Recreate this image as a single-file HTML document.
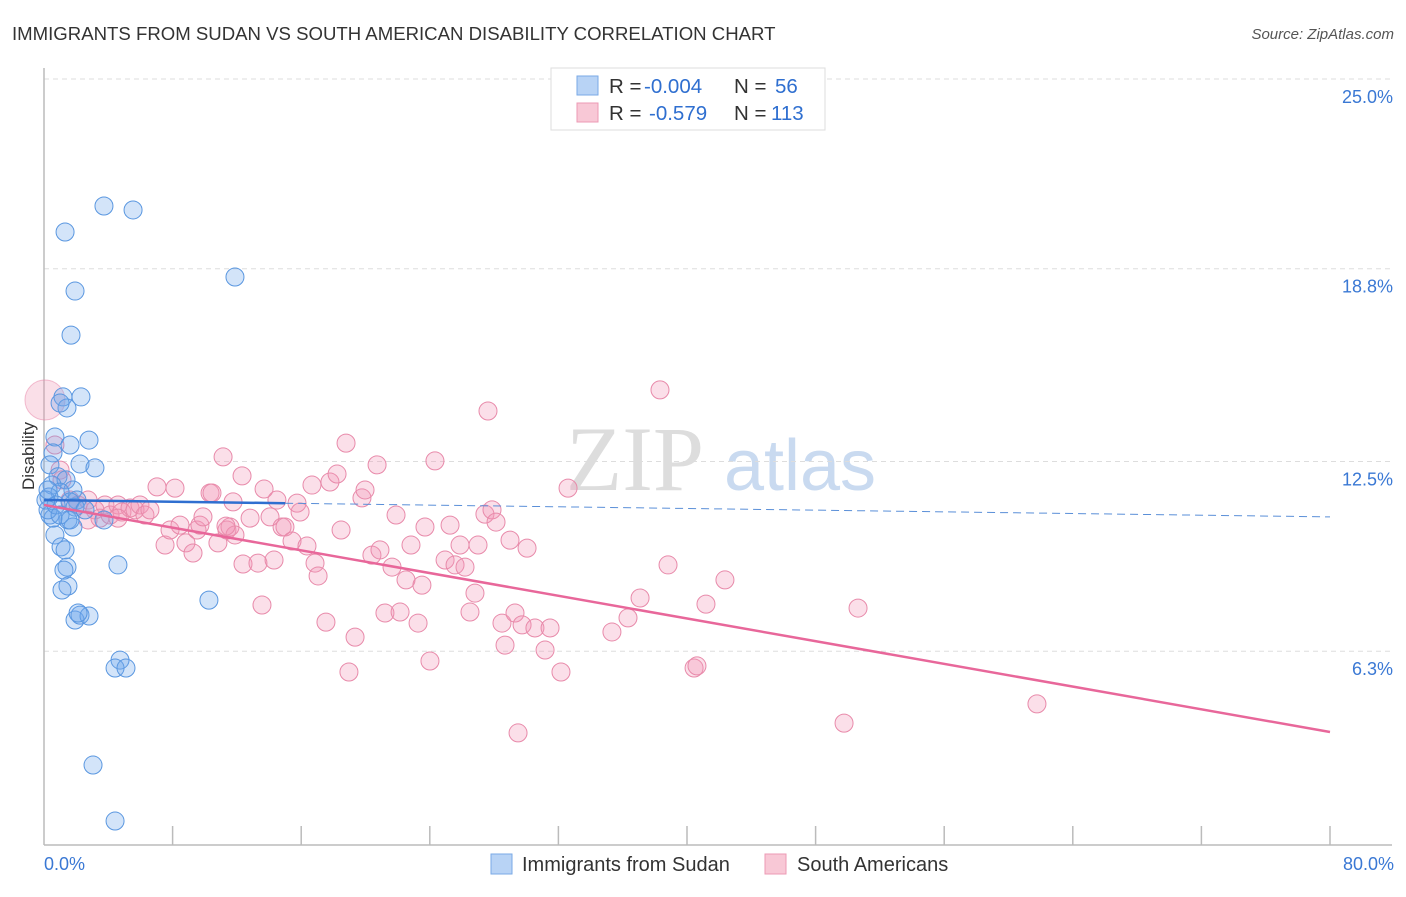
<!DOCTYPE html>
<html><head><meta charset="utf-8"><style>
body{margin:0;background:#fff;font-family:"Liberation Sans",sans-serif}
</style></head><body>
<svg id="chart" width="1406" height="892" viewBox="0 0 1406 892" xmlns="http://www.w3.org/2000/svg" font-family="Liberation Sans, sans-serif">
<text x="12" y="40" font-size="18.6" fill="#333">IMMIGRANTS FROM SUDAN VS SOUTH AMERICAN DISABILITY CORRELATION CHART</text>
<text x="1394" y="39" font-size="15" fill="#555" text-anchor="end" font-style="italic">Source: ZipAtlas.com</text>
<g>
<text x="635" y="490" font-size="92" fill="#ddd" font-family="Liberation Serif, serif" text-anchor="middle">ZIP</text>
<text x="800" y="490" font-size="72" fill="#c9daf0" text-anchor="middle">atlas</text>
</g>
<g id="grid"></g>
<g id="axes"></g>
<text transform="translate(34,456) rotate(-90)" font-size="17" fill="#333" text-anchor="middle">Disability</text>
<g id="marks"></g>
<g id="trends"></g>
<g>
<rect x="551" y="68" width="274" height="62" fill="#fff" stroke="#ddd"/>
<rect x="577" y="76" width="21" height="19" fill="#b8d3f5" stroke="#7aaae6"/>
<rect x="577" y="103" width="21" height="19" fill="#f8c8d6" stroke="#ec9ab4"/>
<text x="609" y="93" font-size="20.5" fill="#333">R = <tspan x="644" fill="#2f6fd0">-0.004</tspan><tspan x="734">N = </tspan><tspan x="775" fill="#2f6fd0">56</tspan></text>
<text x="609" y="120" font-size="20.5" fill="#333">R = <tspan x="649" fill="#2f6fd0">-0.579</tspan><tspan x="734">N = </tspan><tspan x="771" fill="#2f6fd0">113</tspan></text>
</g>
<g>
<rect x="491" y="854" width="21" height="20" fill="#b8d3f5" stroke="#7aaae6"/>
<text x="522" y="871" font-size="20" fill="#333">Immigrants from Sudan</text>
<rect x="765" y="854" width="21" height="20" fill="#f8c8d6" stroke="#ec9ab4"/>
<text x="797" y="871" font-size="20" fill="#333">South Americans</text>
</g>
</svg>
<script>
const yTicks=[25.0,18.8,12.5,6.3];
const yTickLabels=["25.0%","18.8%","12.5%","6.3%"];
const xTickCount=10;
const xTickLabels=["0.0%","80.0%"];
const blueData=[[3.73,20.85],[5.54,20.72],[1.31,20.0],[11.88,18.53],[1.93,18.07],[1.68,16.63],[1.18,14.61],[2.30,14.61],[1.43,14.25],[1.0,14.41],[0.68,13.3],[2.8,13.2],[1.62,13.04],[0.56,12.78],[2.24,12.42],[3.17,12.29],[0.37,12.39],[0.87,12.0],[1.37,11.9],[0.5,11.73],[1.8,11.57],[1.0,11.5],[2.05,11.24],[0.31,11.34],[1.62,11.18],[1.93,11.01],[0.37,10.75],[1.49,10.59],[0.56,10.65],[1.8,10.36],[0.68,10.1],[1.06,9.71],[1.31,9.61],[1.43,9.05],[1.24,8.95],[4.6,9.12],[1.49,8.43],[1.12,8.3],[1.93,7.32],[2.24,7.48],[2.8,7.45],[2.12,7.55],[10.26,7.97],[4.73,6.01],[4.42,5.75],[5.1,5.75],[3.05,2.58],[4.42,0.75],[0.25,10.92],[0.75,11.08],[3.73,10.59],[0.12,11.24],[1.0,10.75],[2.55,10.92],[0.25,11.57],[1.62,10.59]];
const pinkData=[[0.68,13.04],[1.0,12.22],[1.12,11.9],[1.62,11.24],[2.12,11.08],[2.74,11.24],[3.17,10.92],[3.48,10.65],[3.79,11.08],[4.11,10.75],[4.6,11.08],[4.85,10.85],[5.35,10.98],[5.66,10.92],[5.97,11.08],[6.28,10.75],[6.59,10.92],[7.03,11.67],[7.53,9.77],[7.84,10.26],[8.15,11.63],[8.46,10.42],[8.83,9.84],[9.27,9.51],[9.52,10.26],[9.7,10.42],[9.89,10.69],[10.33,11.47],[10.45,11.47],[10.82,9.84],[11.14,12.65],[11.38,10.26],[11.57,10.36],[11.88,10.1],[12.32,12.03],[12.38,9.15],[12.82,10.65],[13.31,9.18],[13.69,11.6],[14.06,10.69],[14.31,9.28],[14.49,11.24],[14.81,10.36],[14.99,10.36],[15.43,9.9],[15.74,11.14],[15.93,10.85],[16.36,9.74],[16.86,9.18],[17.05,8.76],[16.67,11.73],[17.54,7.25],[17.79,11.83],[18.23,12.09],[18.48,10.26],[18.79,13.1],[18.97,5.62],[19.35,6.76],[19.78,11.31],[19.97,11.57],[20.4,9.44],[20.72,12.39],[20.9,9.61],[21.21,7.55],[21.65,9.05],[21.9,10.75],[22.15,7.58],[22.52,8.63],[22.83,9.77],[23.27,7.22],[23.51,8.46],[23.7,10.36],[24.01,5.98],[24.32,12.52],[24.95,9.28],[25.26,10.42],[25.57,9.12],[25.88,9.77],[26.19,9.05],[26.5,7.58],[26.81,8.2],[27.0,9.77],[27.43,10.78],[27.62,14.15],[27.87,10.92],[28.12,10.52],[28.49,7.22],[28.68,6.5],[28.99,9.93],[29.3,7.55],[29.49,3.63],[29.74,7.16],[30.05,9.67],[30.54,7.06],[31.17,6.34],[31.48,7.06],[32.16,5.62],[32.6,11.63],[35.33,6.93],[36.33,7.39],[37.08,8.04],[38.32,14.84],[38.82,9.12],[40.44,5.75],[40.62,5.82],[41.18,7.84],[42.36,8.63],[49.77,3.95],[50.64,7.71],[61.77,4.58],[11.32,10.39],[11.76,11.18],[13.56,7.81],[2.74,10.59],[4.6,10.65]];
const bigPink=[0.06,14.51];
const blueTrend=[11.24,10.69];
const blueSolidEnd=15;
const pinkTrend=[11.08,3.66];

const NS="http://www.w3.org/2000/svg";
const X0=44,X1=1330,Y0=79,YS=30.6;
function xs(v){return X0+v*(X1-X0)/80;}
function ys(v){return Y0+(25-v)*YS;}
function mk(tag,attrs,parent){const e=document.createElementNS(NS,tag);for(const k in attrs)e.setAttribute(k,attrs[k]);parent.appendChild(e);return e;}
const grid=document.getElementById('grid'),axes=document.getElementById('axes'),marks=document.getElementById('marks'),trends=document.getElementById('trends');
yTicks.forEach((t,i)=>{
 const l=mk('line',{x1:X0,x2:1392,y1:ys(t),y2:ys(t),stroke:'#ddd','stroke-dasharray':'5,4'},grid);
 
 
 const tx=mk('text',{x:1393,y:ys(t)+24,'font-size':18,fill:'#3a78d4','text-anchor':'end'},axes);
 tx.textContent=yTickLabels[i];
 
 
});
const ya=mk('line',{x1:X0,x2:X0,y1:68,y2:845,stroke:'#bbb','stroke-width':1.5},axes);


const xa=mk('line',{x1:X0,x2:1392,y1:845,y2:845,stroke:'#bbb','stroke-width':1.5},axes);


for(let i=1;i<=xTickCount;i++){
 const t=mk('line',{x1:xs(i*8),x2:xs(i*8),y1:826,y2:845,stroke:'#bbb','stroke-width':1.5},axes);
 
 
}
const xl0=mk('text',{x:44,y:870,'font-size':18,fill:'#3a78d4'},axes);xl0.textContent=xTickLabels[0];


const xl1=mk('text',{x:1394,y:870,'font-size':18,fill:'#3a78d4','text-anchor':'end'},axes);xl1.textContent=xTickLabels[1];



const bp=mk('circle',{cx:xs(bigPink[0]),cy:ys(bigPink[1]),r:20,fill:'rgba(240,150,180,0.3)',stroke:'rgba(232,130,165,0.5)'},marks);


pinkData.forEach(d=>{
 const c=mk('circle',{cx:xs(d[0]),cy:ys(d[1]),r:9,fill:'rgba(242,150,182,0.3)',stroke:'#e88aaa','stroke-width':1},marks);
 
 
});
blueData.forEach(d=>{
 const c=mk('circle',{cx:xs(d[0]),cy:ys(d[1]),r:9,fill:'rgba(110,165,235,0.3)',stroke:'#5a97e0','stroke-width':1},marks);
 
 
});
function lin(a,v){return a[0]+(a[1]-a[0])*v/80;}
const bs=mk('line',{x1:xs(0),y1:ys(lin(blueTrend,0)),x2:xs(blueSolidEnd),y2:ys(lin(blueTrend,blueSolidEnd)),stroke:'#2f6fd0','stroke-width':2.5},trends);


const bd=mk('line',{x1:xs(blueSolidEnd),y1:ys(lin(blueTrend,blueSolidEnd)),x2:xs(80),y2:ys(lin(blueTrend,80)),stroke:'#5a8fd8','stroke-width':1,'stroke-dasharray':'8,5'},trends);


const pt=mk('line',{x1:xs(0),y1:ys(lin(pinkTrend,0)),x2:xs(80),y2:ys(lin(pinkTrend,80)),stroke:'#e8679a','stroke-width':2.5},trends);


</script>
</body></html>
